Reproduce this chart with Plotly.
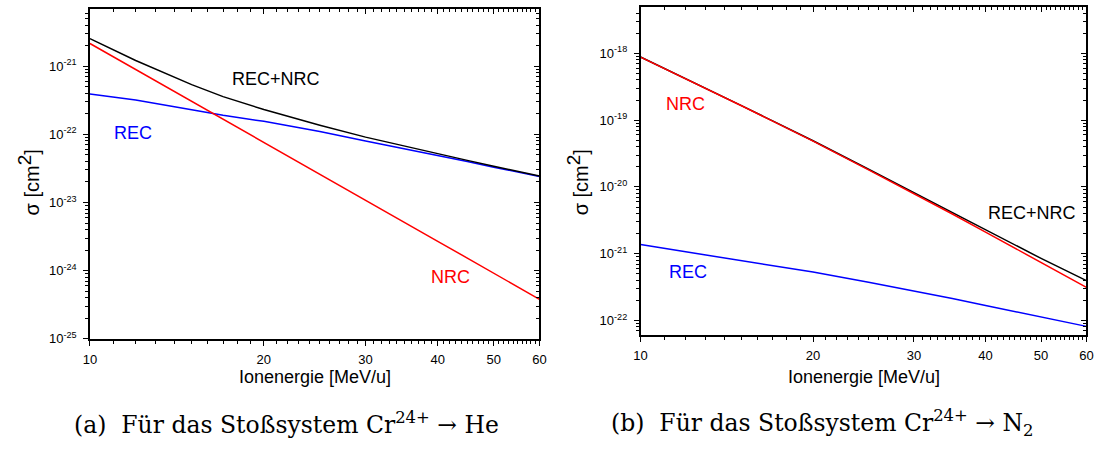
import math
import plotly.graph_objects as go

# ---------------- data ----------------
energy = [10, 12, 15, 17, 20, 25, 30, 35, 40, 45, 50, 60]  # MeV/u

# (a) Cr24+ -> He
he_rec = [3.9e-22, 3.2e-22, 2.3e-22, 1.9e-22, 1.55e-22, 1.1e-22, 8.0e-23, 6.2e-23, 4.9e-23, 4.0e-23, 3.3e-23, 2.4e-23]
he_nrc = [2.15e-21, 8.9e-22, 3.05e-22, 1.67e-22, 7.6e-23, 2.6e-23, 1.08e-23, 5.1e-24, 2.7e-24, 1.53e-24, 9.2e-25, 3.8e-25]
he_total = [2.54e-21, 1.21e-21, 5.35e-22, 3.57e-22, 2.31e-22, 1.36e-22, 9.1e-23, 6.7e-23, 5.2e-23, 4.15e-23, 3.4e-23, 2.44e-23]

# (b) Cr24+ -> N2
n2_rec = [1.37e-21, 1.07e-21, 7.87e-22, 6.62e-22, 5.31e-22, 3.74e-22, 2.79e-22, 2.13e-22, 1.68e-22, 1.36e-22, 1.13e-22, 8.17e-23]
n2_nrc = [8.8e-19, 4.18e-19, 1.64e-19, 9.66e-20, 4.86e-20, 1.80e-20, 7.97e-21, 3.93e-21, 2.11e-21, 1.22e-21, 7.38e-22, 3.13e-22]
n2_total = [8.81e-19, 4.19e-19, 1.65e-19, 9.73e-20, 4.91e-20, 1.84e-20, 8.25e-21, 4.14e-21, 2.28e-21, 1.36e-21, 8.5e-22, 3.95e-22]

x_tick_vals = [10, 20, 30, 40, 50, 60]
x_tick_text = ["10", "20", "30", "40", "50", "60"]
he_y_exponents = [-25, -24, -23, -22, -21]
n2_y_exponents = [-22, -21, -20, -19, -18]

x_title = "Ionenergie [MeV/u]"
y_title = "σ [cm<sup><span style='font-size:19px'>2</span></sup>]"
caption_a = "(a)  Für das Stoßsystem Cr<sup>24+</sup> → He"
caption_b = "(b)  Für das Stoßsystem Cr<sup>24+</sup> → N<sub>2</sub>"

RED = "#ff0000"
BLUE = "#0000ff"
BLACK = "#000000"
SANS = "Liberation Sans, Arial, sans-serif"
SERIF = "DejaVu Serif, serif"

W, H = 1105, 450


def ytick_text(e):
    return f"10<sup>{e}</sup>"


x_minor = [v for v in range(11, 60) if v % 10 != 0]


def y_minor(exps):
    lo, hi = min(exps) - 1, max(exps) + 1
    return [m * 10.0 ** e for e in range(lo, hi + 1) for m in range(2, 10)]


fig = go.Figure()

panels = [
    dict(xa="x", ya="y", ox="x3", oy="y3", rec=he_rec, nrc=he_nrc, tot=he_total),
    dict(xa="x2", ya="y2", ox="x4", oy="y4", rec=n2_rec, nrc=n2_nrc, tot=n2_total),
]

for p in panels:
    for ys, col in ((p["rec"], BLUE), (p["tot"], BLACK), (p["nrc"], RED)):
        fig.add_trace(go.Scatter(x=energy, y=ys, mode="lines",
                                 line=dict(color=col, width=1.5),
                                 xaxis=p["xa"], yaxis=p["ya"], showlegend=False,
                                 hoverinfo="x+y"))
    # transparent trace so the mirrored (top/right) tick axes exist
    fig.add_trace(go.Scatter(x=energy, y=p["rec"], mode="lines",
                             line=dict(color="rgba(0,0,0,0)", width=0),
                             xaxis=p["ox"], yaxis=p["oy"], showlegend=False,
                             hoverinfo="skip"))

xr = [math.log10(10), math.log10(60)]
he_yr = [-25.0, -20.158]
n2_yr = [-22.216, -17.304]

dom_x1 = [84 / W, 539.3 / W]
dom_x2 = [641.7 / W, 1093.3 / W]
dom_y1 = [1 - 345 / H, 1 - 8.9 / H]
dom_y2 = [1 - 341 / H, 1 - 7.0 / H]

tickfont = dict(family=SANS, size=13, color=BLACK)


def main_x(domain, anchor):
    return dict(domain=domain, anchor=anchor, type="log", range=xr,
                tickmode="array", tickvals=x_tick_vals, ticktext=x_tick_text,
                ticks="outside", ticklen=5, tickwidth=1, tickcolor=BLACK,
                minor=dict(tickmode="array", tickvals=x_minor, ticks="outside",
                           ticklen=3, tickwidth=1, tickcolor=BLACK, showgrid=False),
                showline=True, linecolor=BLACK, linewidth=1.5, mirror=True,
                showgrid=False, zeroline=False, tickfont=tickfont,
                ticklabelstandoff=3)


def main_y(domain, anchor, rng, exps):
    return dict(domain=domain, anchor=anchor, type="log", range=rng,
                tickmode="array", tickvals=[10.0 ** e for e in exps],
                ticktext=[ytick_text(e) for e in exps],
                ticks="outside", ticklen=5, tickwidth=1, tickcolor=BLACK,
                minor=dict(tickmode="array", tickvals=y_minor(exps), ticks="outside",
                           ticklen=3, tickwidth=1, tickcolor=BLACK, showgrid=False),
                showline=True, linecolor=BLACK, linewidth=1.5, mirror=True,
                showgrid=False, zeroline=False, tickfont=tickfont,
                ticklabelstandoff=4)


def over_x(base, anchor):
    return dict(overlaying=base, anchor=anchor, side="top", type="log", range=xr,
                tickmode="array", tickvals=x_tick_vals, showticklabels=False,
                ticks="inside", ticklen=5, tickwidth=1, tickcolor=BLACK,
                minor=dict(tickmode="array", tickvals=x_minor, ticks="inside",
                           ticklen=3, tickwidth=1, tickcolor=BLACK, showgrid=False),
                showline=False, showgrid=False, zeroline=False)


def over_y(base, anchor, rng, exps):
    return dict(overlaying=base, anchor=anchor, side="right", type="log", range=rng,
                tickmode="array", tickvals=[10.0 ** e for e in exps], showticklabels=False,
                ticks="inside", ticklen=5, tickwidth=1, tickcolor=BLACK,
                minor=dict(tickmode="array", tickvals=y_minor(exps), ticks="inside",
                           ticklen=3, tickwidth=1, tickcolor=BLACK, showgrid=False),
                showline=False, showgrid=False, zeroline=False)


fig.update_layout(
    width=W, height=H,
    margin=dict(l=0, r=0, t=0, b=0),
    paper_bgcolor="white", plot_bgcolor="white",
    showlegend=False,
    xaxis=main_x(dom_x1, "y"),
    yaxis=main_y(dom_y1, "x", he_yr, he_y_exponents),
    xaxis2=main_x(dom_x2, "y2"),
    yaxis2=main_y(dom_y2, "x2", n2_yr, n2_y_exponents),
    xaxis3=over_x("x", "y"),
    yaxis3=over_y("y", "x", he_yr, he_y_exponents),
    xaxis4=over_x("x2", "y2"),
    yaxis4=over_y("y2", "x2", n2_yr, n2_y_exponents),
)

lab = dict(family=SANS, size=18)
annotations = [
    # curve labels (a)
    dict(text="REC+NRC", x=1.3215, y=-21.19, xref="x", yref="y", font=dict(lab, color=BLACK)),
    dict(text="REC", x=1.0753, y=-21.976, xref="x", yref="y", font=dict(lab, color=BLUE)),
    dict(text="NRC", x=1.6236, y=-24.087, xref="x", yref="y", font=dict(lab, color=RED)),
    # curve labels (b)
    dict(text="NRC", x=1.0784, y=-18.757, xref="x2", yref="y2", font=dict(lab, color=RED)),
    dict(text="REC+NRC", x=1.6824, y=-20.391, xref="x2", yref="y2", font=dict(lab, color=BLACK)),
    dict(text="REC", x=1.0834, y=-21.27, xref="x2", yref="y2", font=dict(lab, color=BLUE)),
    # axis titles
    dict(text=x_title, x=(dom_x1[0] + dom_x1[1]) / 2, y=1 - 384 / H, xref="paper", yref="paper",
         font=dict(family=SANS, size=18, color=BLACK)),
    dict(text=x_title, x=(dom_x2[0] + dom_x2[1]) / 2, y=1 - 384 / H, xref="paper", yref="paper",
         font=dict(family=SANS, size=18, color=BLACK)),
    dict(text=y_title, x=22 / W, y=1 - 186 / H, xref="paper", yref="paper", textangle=-90,
         font=dict(family=SANS, size=20, color=BLACK)),
    dict(text=y_title, x=578 / W, y=1 - 186 / H, xref="paper", yref="paper", textangle=-90,
         font=dict(family=SANS, size=20, color=BLACK)),
    # captions
    dict(text=caption_a, x=283.4 / W, y=1 - 431 / H, xref="paper", yref="paper",
         font=dict(family=SERIF, size=23.5, color=BLACK)),
    dict(text=caption_b, x=826 / W, y=1 - 431 / H, xref="paper", yref="paper",
         font=dict(family=SERIF, size=23.5, color=BLACK)),
]
for a in annotations:
    a.update(showarrow=False, xanchor="center", yanchor="middle")
fig.update_layout(annotations=annotations)

fig.write_html("out.html")
